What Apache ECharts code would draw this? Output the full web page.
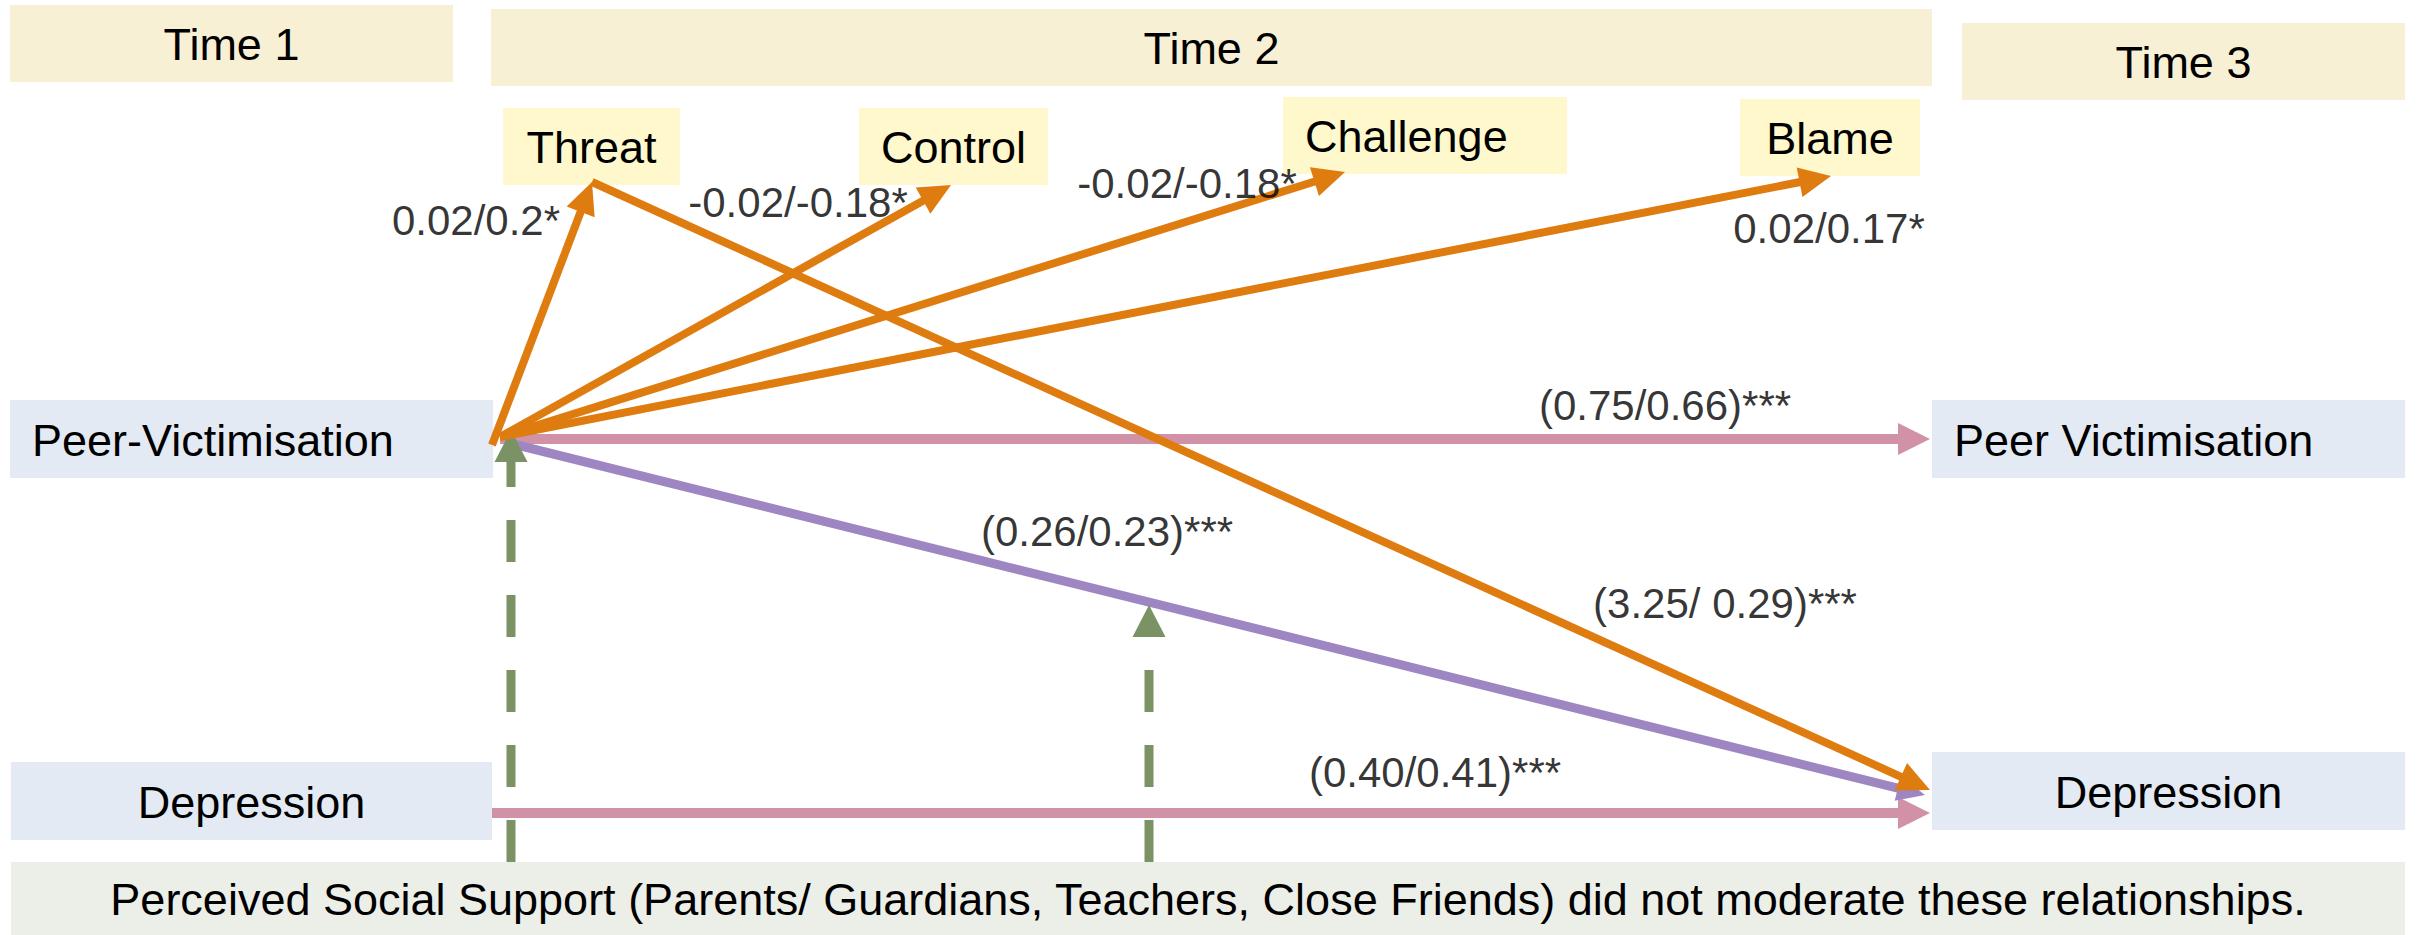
<!DOCTYPE html>
<html>
<head>
<meta charset="utf-8">
<title>Path model</title>
<script src="https://cdn.jsdelivr.net/npm/echarts@6/dist/echarts.min.js"></script>
<style>
  html, body { margin: 0; padding: 0; background: #fff; }
  #main { width: 2420px; height: 935px; }
</style>
</head>
<body>
<div id="main"></div>
<script>
// boxes: [x0, y0, x1, y1] in picture pixels
const timeLabels = ["Time 1", "Time 2", "Time 3"];
const timeBoxes = [[10, 5, 453, 82], [491, 9, 1932, 86], [1962, 23, 2405, 100]];

const appraisalLabels = ["Threat", "Control", "Challenge", "Blame"];
const appraisalBoxes = [[503, 108, 680, 185], [859, 108, 1048, 185], [1283, 97, 1567, 174], [1740, 99, 1920, 176]];
const appraisalAlign = ["center", "center", "left", "center"];

const varLabels = ["Peer-Victimisation", "Depression", "Peer Victimisation", "Depression"];
const varBoxes = [[10, 400, 493, 478], [11, 762, 492, 840], [1932, 400, 2405, 478], [1932, 752, 2405, 830]];
const varAlign = ["left", "center", "left", "center"];

const noteText = "Perceived Social Support (Parents/ Guardians, Teachers, Close Friends) did not moderate these relationships.";
const noteBox = [11, 862, 2405, 935];

// paths: [fromX, fromY, toX, toY]
const appraisalPaths = [
  [492, 445, 592, 182],
  [500, 437, 951, 185],
  [500, 437, 1345, 172],
  [500, 437, 1831, 176],
  [592, 182, 1930, 790]
];
const stabilityPaths = [
  [500, 439, 1930, 439],
  [492, 813, 1930, 813]
];
const crossPaths = [
  [505, 442, 1925, 795]
];
const moderatorPaths = [
  [511, 862, 511, 430],
  [1149, 862, 1149, 605]
];

const pathLabels = ["0.02/0.2*", "-0.02/-0.18*", "-0.02/-0.18*", "0.02/0.17*",
  "(0.75/0.66)***", "(0.26/0.23)***", "(3.25/ 0.29)***", "(0.40/0.41)***"];
const pathLabelPos = [[476, 220], [798, 202], [1187, 183], [1829, 228],
  [1665, 405], [1107, 531], [1725, 603], [1435, 772]];

const FONT = '"Liberation Sans", Arial, sans-serif';

function boxSeries(boxes, labels, fill, align) {
  return {
    type: "custom",
    coordinateSystem: "cartesian2d",
    data: boxes.map((b, i) => [b[0], b[1], b[2], b[3], i]),
    renderItem: function (params, api) {
      const p0 = api.coord([api.value(0), api.value(1)]);
      const p1 = api.coord([api.value(2), api.value(3)]);
      const i = api.value(4);
      const a = align ? align[i] : "center";
      const tx = a === "left" ? p0[0] + 22 : (p0[0] + p1[0]) / 2;
      return {
        type: "group",
        children: [
          { type: "rect", shape: { x: p0[0], y: p0[1], width: p1[0] - p0[0], height: p1[1] - p0[1] },
            style: { fill: fill } },
          { type: "text", style: { text: labels[i], x: tx, y: (p0[1] + p1[1]) / 2 + 1, align: a,
            verticalAlign: "middle", fill: "#000", font: "45px " + FONT } }
        ]
      };
    },
    silent: true,
    z: 1
  };
}

function arrowSeries(paths, color, width, headLen, headW, dash, z) {
  return {
    type: "custom",
    coordinateSystem: "cartesian2d",
    data: paths,
    renderItem: function (params, api) {
      const a = api.coord([api.value(0), api.value(1)]);
      const b = api.coord([api.value(2), api.value(3)]);
      const dx = b[0] - a[0], dy = b[1] - a[1];
      const len = Math.sqrt(dx * dx + dy * dy);
      const ux = dx / len, uy = dy / len;
      const bx = b[0] - ux * headLen, by = b[1] - uy * headLen;
      const px = -uy * headW / 2, py = ux * headW / 2;
      return {
        type: "group",
        children: [
          { type: "line", shape: { x1: a[0], y1: a[1], x2: bx + ux * 2, y2: by + uy * 2 },
            style: { stroke: color, lineWidth: width, lineDash: dash || null } },
          { type: "polygon", shape: { points: [[b[0], b[1]], [bx + px, by + py], [bx - px, by - py]] },
            style: { fill: color } }
        ]
      };
    },
    silent: true,
    z: z
  };
}

const chart = echarts.init(document.getElementById("main"), null, { renderer: "svg" });
chart.setOption({
  animation: false,
  backgroundColor: "#ffffff",
  grid: { left: 0, right: 0, top: 0, bottom: 0 },
  xAxis: { type: "value", min: 0, max: 2420, show: false },
  yAxis: { type: "value", min: 0, max: 935, inverse: true, show: false },
  series: [
    boxSeries(timeBoxes, timeLabels, "#F8F0D4"),
    boxSeries(appraisalBoxes, appraisalLabels, "#FEF8CC", appraisalAlign),
    boxSeries(varBoxes, varLabels, "#E4EAF3", varAlign),
    boxSeries([noteBox], [noteText], "#ECEEE8"),
    arrowSeries(stabilityPaths, "#D191A6", 10, 32, 32, null, 2),
    arrowSeries(crossPaths, "#9E86C3", 9, 28, 26, null, 3),
    arrowSeries(moderatorPaths, "#7B9364", 9, 32, 33, [42, 33], 4),
    arrowSeries(appraisalPaths, "#DF7C0F", 8, 32, 30, null, 5),
    {
      type: "scatter",
      data: pathLabelPos.map((p, i) => [p[0], p[1], i]),
      symbolSize: 0,
      label: {
        show: true,
        position: "inside",
        formatter: (p) => pathLabels[p.data[2]],
        color: "#000",
        fontSize: 42,
        fontFamily: FONT
      },
      silent: true,
      z: 6
    }
  ]
});
</script>
</body>
</html>
